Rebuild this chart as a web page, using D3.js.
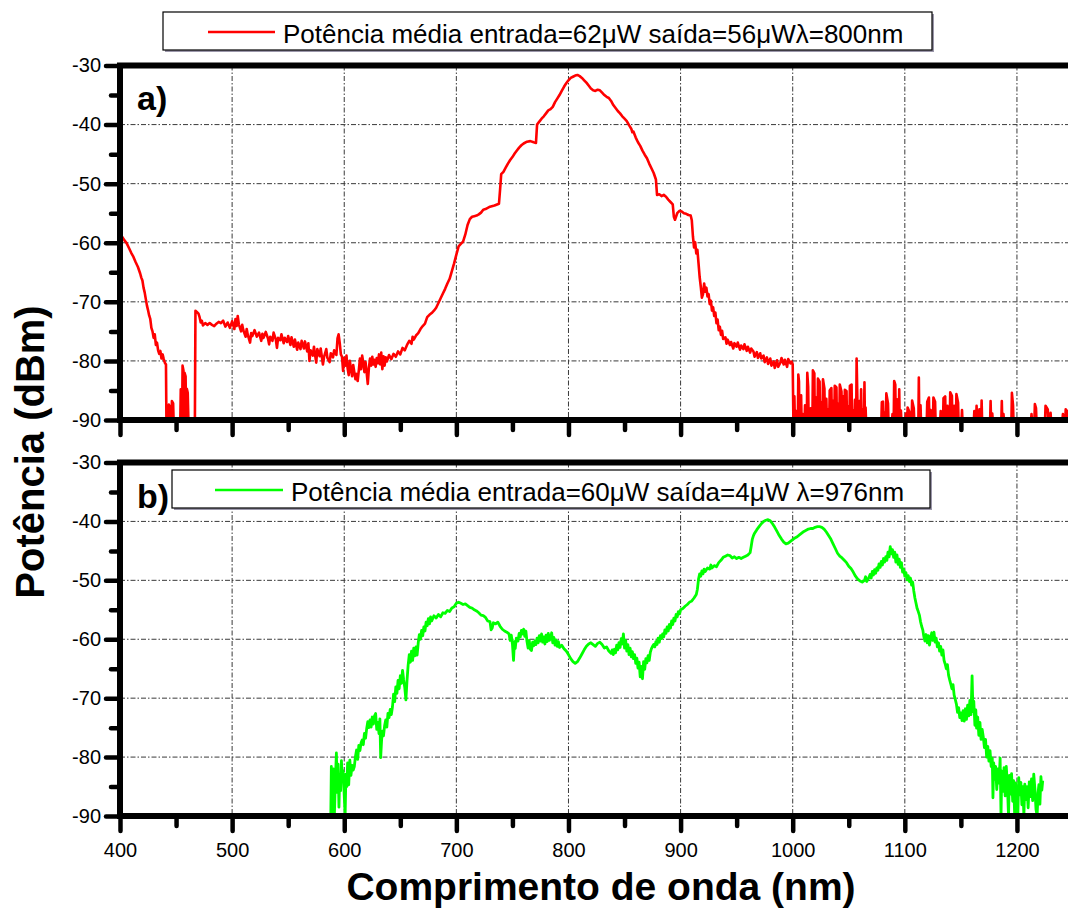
<!DOCTYPE html>
<html>
<head>
<meta charset="utf-8">
<script src="https://cdn.jsdelivr.net/npm/d3@7"></script>
<style>
  html, body { margin: 0; background: #fff; }
  svg { display: block; font-family: "Liberation Sans", Arial, sans-serif; }
</style>
</head>
<body>
<svg id="chart" width="1068" height="914"></svg>
<script>
// Spectrum a): pumped at 800 nm, [wavelength nm, power dBm]
const spectrumA = [
  [400,-58.8],[402,-59.0],[404,-59.6],[406,-60.1],[408,-60.9],[410,-61.7],[412,-62.4],[414,-63.3],[416,-64.1],[418,-65.2],
  [419,-65.9],[420,-66.4],[421,-67.6],[422,-68.4],[423,-69.5],[424,-70.6],[425,-71.4],[426,-72.3],[427,-72.9],[428,-74.4],
  [429,-75.0],[430,-76.1],[431,-75.5],[432,-77.3],[433,-76.9],[434,-78.2],[435,-78.8],[436,-78.3],[437,-79.6],[438,-78.9],
  [439,-79.7],[440,-80.3],[441,-80.6],
  [441.4,-90],[443.3,-90],[443.6,-87.4],[444.5,-87.9],[444.9,-90],[446.0,-90],[446.3,-86.8],[447.4,-87.2],[447.8,-90],
  [453.8,-90],[454.2,-84.8],[455.0,-85.3],[455.4,-90],[455.8,-80.8],[456.6,-81.6],[457.1,-90],[457.6,-82.0],[458.5,-82.6],
  [459.0,-90],[459.6,-84.7],[460.4,-85.4],[461.0,-90],[466.8,-90],
  [467.3,-71.5],[468.5,-71.7],[470,-72.0],[471,-72.6],[472,-73.5],[473,-73.2],[474,-74.0],[476,-73.6],[478,-73.9],[480,-73.6],
  [482,-73.9],[484,-74.1],[486,-73.7],[488,-73.4],[490,-73.6],[492,-73.2],[494,-74.2],[496,-73.5],[498,-74.4],[500,-73.3],
  [502,-74.6],[503,-72.9],[504,-74.1],[505,-72.4],[506,-73.8],[508,-75.0],[509,-73.9],[510,-74.8],[512,-75.9],[513,-74.6],
  [514,-75.6],[516,-76.9],[517,-75.3],[518,-75.8],[520,-74.8],[522,-75.9],[524,-75.2],[526,-76.6],[527,-75.4],[528,-76.1],
  [530,-75.1],[532,-76.2],[533,-77.2],[534,-75.9],[536,-76.6],[537,-75.2],[539,-76.4],[540,-77.8],[541,-76.1],[543,-76.5],
  [544,-75.5],[546,-77.0],[547,-76.1],[549,-76.8],[550,-75.8],[552,-77.3],[553,-76.0],[555,-77.6],[556,-76.4],[558,-78.1],
  [559,-76.9],[561,-78.0],[562,-76.6],[564,-77.9],[565,-76.7],[567,-78.4],[568,-77.0],[569,-80.0],[570,-78.2],[572,-79.1],
  [573,-77.6],[575,-80.3],[576,-78.0],[578,-79.2],[579,-77.9],[581,-80.6],[582,-79.3],[584,-78.0],[585,-79.5],[587,-80.2],
  [588,-78.7],[590,-79.4],[591,-78.2],[593,-79.0],[594,-76.2],[595,-75.5],[596,-77.0],[597,-78.9],[598,-79.3],[599,-81.7],
  [600,-79.5],[601,-80.8],[602,-79.1],[603,-81.2],[604,-82.4],[605,-80.0],[606,-81.3],[607,-82.6],[608,-80.7],[609,-81.9],
  [610,-83.1],[611,-82.2],[612,-83.4],[613,-81.6],[614,-79.6],[615,-81.4],[616,-79.1],[617,-80.3],[618,-81.9],[619,-80.2],
  [620,-82.0],[621,-83.9],[622,-81.2],[623,-79.6],[624,-80.8],[625,-79.3],[626,-80.6],[627,-79.8],[628,-81.0],[629,-79.5],
  [630,-80.4],[631,-78.9],[632,-80.6],[633,-78.6],[634,-81.4],[635,-79.2],[636,-80.8],[637,-79.4],[638,-80.1],[640,-79.0],
  [642,-79.7],[644,-78.8],[646,-79.3],[648,-78.4],[650,-78.9],[652,-77.8],[654,-78.2],[656,-77.3],[658,-76.6],[660,-77.1],
  [661,-75.9],[662,-76.4],[664,-75.7],[666,-75.3],[668,-74.6],[670,-74.1],[672,-73.7],[674,-72.6],[676,-72.2],[678,-71.9],
  [680,-71.5],[682,-71.0],[684,-70.2],[686,-69.4],[688,-68.6],[690,-67.8],[692,-66.9],[694,-66.1],[696,-64.8],[698,-63.5],
  [700,-62.0],[702,-60.6],[704,-60.2],[706,-59.8],[708,-58.6],[710,-57.0],[712,-56.0],[714,-55.6],[716,-55.5],[718,-55.4],
  [720,-55.2],[722,-54.9],[724,-54.4],[726,-54.3],[728,-54.1],[730,-53.9],[734,-53.7],[738,-53.4],[739,-51.0],[740,-48.4],
  [742,-48.0],[744,-47.3],[746,-46.6],[748,-46.0],[750,-45.5],[752,-44.9],[754,-44.4],[756,-43.9],[758,-43.5],[760,-43.2],
  [763,-42.9],[766,-42.8],[769,-43.0],[771,-43.1],[772,-40.0],[774,-39.5],[776,-39.0],[778,-38.6],[780,-38.1],[782,-37.6],
  [784,-37.4],[786,-37.0],[788,-36.2],[790,-35.6],[792,-35.0],[794,-34.3],[796,-33.6],[798,-33.0],[800,-32.5],[802,-32.1],
  [804,-31.9],[806,-31.7],[808,-31.6],[810,-31.8],[812,-32.1],[814,-32.5],[816,-32.9],[818,-33.4],[820,-33.9],[822,-34.2],
  [824,-34.3],[826,-34.1],[828,-34.2],[830,-34.6],[832,-35.0],[834,-35.3],[836,-35.5],[838,-36.0],[840,-36.7],[842,-37.2],
  [844,-37.7],[846,-38.1],[848,-38.6],[850,-39.0],[852,-39.4],[854,-40.1],[856,-40.7],[857,-41.3],[858,-41.2],[860,-42.2],
  [862,-43.0],[864,-43.6],[866,-44.4],[868,-45.1],[870,-45.7],[872,-46.6],[874,-47.4],[876,-48.2],[878,-49.3],[879,-51.9],
  [881,-51.8],[883,-52.1],[885,-51.9],[887,-52.2],[889,-52.7],[891,-53.1],[893,-53.5],[894,-55.6],[895,-56.1],[897,-55.0],
  [899,-54.6],[901,-54.7],[903,-55.0],[905,-55.1],[907,-55.3],[909,-55.4],[910,-56.2],[911,-58.9],[912,-60.8],[913,-59.9],
  [914,-61.8],[915,-61.2],[916,-63.5],[917,-65.8],[918,-67.4],[919,-69.3],[920,-68.7],[921,-66.9],[922,-68.3],[923,-67.6],
  [924,-69.1],[925,-68.7],[926,-70.4],[927,-69.8],[928,-71.5],[929,-70.9],[930,-72.4],[931,-71.8],[932,-73.6],[933,-73.0],
  [934,-74.8],[935,-74.2],[936,-75.6],[937,-74.9],[938,-76.3],[940,-76.0],[941,-77.1],[942,-76.4],[944,-77.3],[945,-76.8],
  [947,-77.9],[948,-77.0],[950,-77.6],[951,-76.9],[953,-78.1],[954,-77.4],[956,-78.0],[957,-77.2],[959,-78.3],[960,-77.6],
  [962,-78.6],[963,-77.9],[965,-78.4],[966,-79.3],[968,-78.5],[969,-79.5],[971,-78.7],[972,-79.6],[974,-79.1],[975,-80.2],
  [977,-79.4],[978,-80.5],[980,-79.6],[981,-80.8],[983,-80.1],[984,-81.2],[986,-79.9],[987,-81.0],[989,-80.3],[990,-79.5],
  [992,-80.6],[993,-79.8],[995,-81.0],[996,-79.7],[998,-80.4],[999,-80.1],[1000,-80.6],[1000.6,-90],
  [1001.1,-90],[1001.5,-86.0],[1001.9,-90],[1002.6,-90],[1003.0,-88.5],[1003.4,-90],
  [1004.6,-90],[1005.0,-82.3],[1005.6,-83.5],[1006.0,-90],[1007.1,-90],[1007.5,-85.8],[1007.9,-90],
  [1008.6,-90],[1009.0,-89.0],[1009.4,-90],[1010.6,-90],[1011.0,-87.5],[1011.4,-90],
  [1012.6,-90],[1013.0,-82.0],[1013.8,-84.4],[1014.2,-90],[1015.6,-90],[1016.0,-88.0],[1016.4,-90],
  [1017.6,-90],[1018.0,-81.6],[1019.3,-82.1],[1019.7,-90],[1020.6,-90],[1021.0,-86.2],[1021.4,-90],
  [1022.1,-90],[1022.5,-83.0],[1024.0,-83.5],[1024.4,-90],[1025.1,-90],[1025.5,-87.0],[1025.9,-90],
  [1026.6,-90],[1027.0,-83.1],[1028.3,-84.7],[1028.7,-90],[1029.6,-90],[1030.0,-86.4],[1030.4,-90],
  [1031.1,-90],[1031.5,-88.2],[1031.9,-90],[1032.6,-90],[1033.0,-85.0],[1034.5,-84.6],[1034.9,-90],
  [1035.6,-90],[1036.0,-86.8],[1036.4,-90],[1037.1,-90],[1037.5,-84.2],[1039.0,-84.5],[1039.4,-90],
  [1040.1,-90],[1040.5,-87.3],[1040.9,-90],[1041.6,-90],[1042.0,-84.0],[1043.5,-85.2],[1043.9,-90],
  [1044.6,-90],[1045.0,-86.0],[1045.4,-90],[1046.1,-90],[1046.5,-84.9],[1048.0,-85.1],[1048.4,-90],
  [1049.1,-90],[1049.5,-87.7],[1049.9,-90],[1050.6,-90],[1051.0,-84.2],[1052.5,-84.0],[1052.9,-90],
  [1053.6,-90],[1054.0,-88.4],[1054.4,-90],[1055.1,-90],[1055.5,-86.6],[1055.9,-90],
  [1056.6,-90],[1057.0,-79.6],[1057.6,-85.5],[1058.0,-90],[1059.1,-90],[1059.5,-86.8],[1059.9,-90],
  [1060.6,-90],[1061.0,-84.8],[1061.4,-90],[1062.1,-90],[1062.5,-88.2],[1062.9,-90],
  [1063.6,-90],[1064.0,-83.6],[1064.4,-90],[1064.6,-90],[1065.0,-87.9],[1065.4,-90],
  [1079.1,-90],[1079.5,-87.0],[1080.5,-86.9],[1080.9,-90],[1081.6,-90],[1082.0,-88.8],[1082.4,-90],
  [1083.1,-90],[1083.5,-85.5],[1085.0,-87.2],[1085.4,-90],[1088.6,-90],[1089.0,-89.0],[1089.4,-90],
  [1090.1,-90],[1090.5,-83.4],[1091.5,-84.0],[1091.9,-90],[1092.6,-90],[1093.0,-86.5],[1093.4,-90],
  [1094.6,-90],[1095.0,-84.8],[1095.4,-90],[1096.1,-90],[1096.5,-88.4],[1096.9,-90],
  [1100.6,-90],[1101.0,-88.9],[1101.4,-90],[1102.1,-90],[1102.5,-87.9],[1104.0,-88.6],[1104.4,-90],
  [1106.1,-90],[1106.5,-86.7],[1108.0,-88.0],[1108.4,-90],[1112.1,-90],[1112.5,-82.8],[1112.9,-90],
  [1113.6,-90],[1114.0,-87.5],[1114.4,-90],[1119.6,-90],[1120.0,-86.9],[1121.5,-86.2],[1121.9,-90],
  [1122.6,-90],[1123.0,-88.3],[1123.4,-90],[1125.1,-90],[1125.5,-86.2],[1127.0,-86.9],[1127.4,-90],
  [1131.6,-90],[1132.0,-88.5],[1132.4,-90],[1134.1,-90],[1134.5,-86.3],[1136.0,-86.0],[1136.4,-90],
  [1137.6,-90],[1138.0,-87.6],[1138.4,-90],[1140.1,-90],[1140.5,-85.3],[1142.0,-85.9],[1142.4,-90],
  [1143.6,-90],[1144.0,-87.6],[1144.4,-90],[1145.6,-90],[1146.0,-85.6],[1147.5,-87.1],[1147.9,-90],
  [1150.6,-90],[1151.0,-88.3],[1151.4,-90],[1161.6,-90],[1162.0,-88.5],[1162.4,-90],
  [1163.6,-90],[1164.0,-87.6],[1164.4,-90],[1166.1,-90],[1166.5,-88.2],[1166.9,-90],
  [1168.1,-90],[1168.5,-86.7],[1168.9,-90],[1176.1,-90],[1176.5,-86.8],[1176.9,-90],
  [1177.6,-90],[1178.0,-88.9],[1178.4,-90],[1186.1,-90],[1186.5,-86.8],[1186.9,-90],
  [1187.6,-90],[1188.0,-89.0],[1188.4,-90],[1195.1,-90],[1195.5,-85.4],[1196.5,-87.5],[1196.9,-90],
  [1212.6,-90],[1213.0,-89.0],[1213.4,-90],[1215.6,-90],[1216.0,-87.3],[1217.0,-88.0],[1217.4,-90],
  [1225.1,-90],[1225.5,-87.6],[1227.5,-88.2],[1227.9,-90],[1229.6,-90],[1230.0,-88.8],[1230.4,-90],
  [1240.6,-90],[1241.0,-89.0],[1241.4,-90],[1243.1,-90],[1243.5,-88.2],[1245.0,-88.6],[1245.4,-90],
  [1250,-90]
];

// Spectrum b): pumped at 976 nm, [wavelength nm, power dBm]
const spectrumB = [
  [588,-90],[588.5,-81.6],[589.2,-90],[589.8,-83.5],[590.5,-82.0],[591.2,-90],[592,-84.5],[593,-79.3],[593.8,-86.0],
  [594.5,-81.2],[595.3,-88.5],[596,-83.0],[596.8,-85.7],[597.5,-80.6],[598.3,-84.0],[599,-82.3],[600,-86.5],[600.8,-90],
  [601.5,-82.9],[602.3,-85.0],[603,-81.0],[604,-84.7],[605,-80.5],[606,-83.1],[607,-81.4],[608,-82.2],[609,-81.6],
  [610,-79.9],[611,-78.8],[612,-80.4],[613,-78.0],[614,-78.9],[615,-77.6],[616,-77.1],[617,-77.9],[618,-76.0],[619,-76.8],
  [620,-75.2],[621,-74.0],[622,-75.0],[623,-73.7],[624,-74.9],[625,-73.2],[626,-74.4],[627,-73.0],[628,-72.6],[629,-75.3],
  [630,-74.1],[631,-76.0],[631.8,-73.5],[632.5,-80.1],[633.3,-77.2],[634,-75.6],[635,-76.4],[636,-74.7],[637,-73.7],
  [638,-74.9],[639,-72.6],[640,-73.3],[641,-71.9],[642,-72.8],[643,-71.5],[644,-69.3],[645,-70.6],[646,-68.1],[647,-69.2],
  [648,-67.0],[649,-68.4],[650,-66.2],[651,-67.5],[652,-65.3],[653,-66.9],[654,-68.2],[655,-70.3],[656,-67.0],[657,-64.4],
  [658,-62.6],[659,-63.9],[660,-62.0],[661,-63.6],[662,-61.5],[663,-62.8],[664,-61.3],[665,-62.7],[666,-60.6],[667,-59.2],
  [668,-60.0],[669,-58.5],[670,-59.4],[671,-57.9],[672,-58.6],[673,-57.1],[674,-57.7],[675,-56.5],[676,-57.4],[677,-56.2],
  [678,-56.9],[680,-56.0],[682,-56.4],[684,-55.8],[686,-56.2],[688,-55.5],[690,-55.6],[692,-55.1],[694,-55.3],[696,-54.7],
  [698,-54.5],[700,-53.9],[702,-53.7],[704,-53.9],[706,-54.1],[708,-54.0],[710,-54.3],[712,-54.6],[714,-54.7],[716,-55.0],
  [718,-55.2],[720,-55.5],[722,-55.9],[724,-56.0],[726,-56.3],[728,-56.9],[730,-57.0],[731,-58.4],[732,-58.1],[733,-57.2],
  [735,-57.4],[737,-57.1],[739,-57.8],[741,-58.3],[743,-58.6],[745,-58.8],[747,-59.1],[748,-60.2],[749,-59.3],[750,-60.8],
  [751,-63.6],[751.8,-60.4],[752.5,-61.6],[753.5,-59.8],[755,-60.3],[756,-59.0],[757,-59.6],[758,-58.5],[759,-59.1],
  [760,-58.3],[761,-59.5],[762,-58.6],[763,-60.4],[764,-61.5],[765,-60.2],[766,-61.7],[767,-61.9],[768,-60.5],[769,-61.1],
  [770,-60.3],[771,-60.9],[772,-59.8],[773,-60.6],[774,-59.4],[775,-60.3],[776,-59.1],[777,-60.5],[778,-59.6],[779,-60.8],
  [780,-59.3],[781,-60.4],[782,-59.0],[783,-60.2],[784,-59.8],[785,-58.9],[786,-60.6],[787,-59.7],[788,-61.0],[789,-60.1],
  [790,-61.2],[791,-60.4],[792,-61.4],[794,-61.0],[796,-61.6],[798,-62.0],[800,-62.6],[802,-63.3],[804,-63.8],[806,-64.1],
  [808,-63.8],[810,-63.2],[812,-62.5],[814,-61.8],[816,-61.2],[818,-60.8],[820,-60.6],[822,-60.9],[824,-61.2],[826,-60.7],
  [828,-60.5],[830,-60.9],[832,-61.5],[834,-61.3],[836,-62.0],[838,-62.4],[839,-61.8],[840,-62.6],[841,-61.7],[842,-62.3],
  [843,-61.0],[844,-61.8],[845,-60.6],[846,-61.4],[847,-59.9],[848,-60.8],[849,-59.1],[850,-61.5],[851,-60.2],[852,-62.0],
  [853,-60.9],[854,-62.6],[855,-61.5],[856,-63.0],[857,-62.1],[858,-63.3],[859,-62.6],[860,-64.1],[861,-63.2],[862,-64.9],
  [863,-63.9],[864,-66.4],[865,-64.6],[866,-66.7],[867,-63.8],[868,-65.1],[869,-63.3],[870,-64.0],[871,-62.8],[872,-63.6],
  [873,-62.2],[874,-61.6],[875,-61.2],[876,-60.9],[877,-61.3],[878,-60.4],[879,-60.9],[880,-59.8],[881,-60.5],[882,-59.4],
  [883,-59.9],[884,-59.1],[885,-59.6],[886,-58.4],[887,-59.0],[888,-57.9],[889,-58.6],[890,-57.5],[891,-58.1],[892,-56.9],
  [893,-57.5],[894,-56.4],[895,-56.9],[896,-55.8],[897,-56.2],[898,-55.3],[899,-55.7],[900,-55.0],[902,-54.8],[904,-54.4],
  [906,-54.1],[908,-53.7],[910,-53.5],[912,-53.0],[914,-52.4],[915,-51.5],[916,-49.8],[917,-48.9],[918,-49.3],[919,-48.4],
  [920,-48.9],[921,-48.1],[922,-48.5],[924,-47.9],[926,-48.1],[927,-47.4],[928,-47.9],[930,-47.5],[932,-47.7],[934,-47.0],
  [936,-46.6],[938,-46.1],[940,-45.9],[942,-45.7],[944,-45.8],[946,-46.2],[948,-46.0],[950,-46.3],[952,-46.1],[954,-46.3],
  [956,-46.1],[958,-45.9],[960,-45.7],[962,-45.3],[963,-44.2],[964,-43.0],[965,-42.4],[966,-42.0],[968,-41.4],[970,-40.9],
  [972,-40.4],[974,-40.0],[976,-39.8],[978,-39.7],[980,-39.9],[982,-40.4],[984,-41.0],[986,-41.7],[988,-42.4],[990,-43.0],
  [992,-43.5],[994,-43.8],[996,-43.7],[998,-43.4],[1000,-43.1],[1002,-42.8],[1004,-42.6],[1006,-42.3],[1008,-42.0],
  [1010,-41.7],[1012,-41.5],[1014,-41.3],[1016,-41.2],[1018,-41.2],[1020,-41.0],[1022,-40.9],[1024,-40.9],[1026,-41.0],
  [1028,-41.3],[1030,-41.8],[1032,-42.4],[1034,-43.0],[1036,-43.8],[1038,-44.6],[1040,-45.4],[1042,-45.9],[1044,-46.2],
  [1046,-46.6],[1048,-47.0],[1050,-47.6],[1052,-48.0],[1054,-48.6],[1056,-49.3],[1058,-49.8],[1060,-50.1],[1062,-50.3],
  [1064,-50.0],[1065,-49.4],[1066,-50.2],[1068,-49.5],[1069,-49.0],[1070,-49.6],[1071,-48.5],[1072,-49.1],[1073,-48.2],
  [1074,-48.8],[1075,-47.9],[1076,-48.3],[1077,-47.2],[1078,-47.8],[1079,-46.8],[1080,-47.4],[1081,-46.3],[1082,-46.9],
  [1083,-46.0],[1084,-46.6],[1085,-45.2],[1086,-46.0],[1087,-44.3],[1088,-45.5],[1089,-44.8],[1090,-46.1],[1091,-45.2],
  [1092,-46.9],[1093,-45.7],[1094,-47.3],[1095,-46.4],[1096,-47.8],[1097,-47.0],[1098,-48.6],[1099,-48.1],[1100,-49.3],
  [1101,-48.7],[1102,-49.9],[1103,-49.2],[1104,-50.2],[1105,-49.6],[1106,-50.8],[1107,-50.3],[1108,-51.8],[1109,-53.0],
  [1110,-53.9],[1111,-54.8],[1112,-55.3],[1113,-55.9],[1114,-57.0],[1115,-57.8],[1116,-58.4],[1117,-59.6],[1118,-60.3],
  [1119,-59.2],[1120,-60.6],[1121,-59.4],[1122,-61.0],[1123,-59.7],[1124,-58.9],[1125,-60.2],[1126,-58.8],[1127,-60.5],
  [1128,-59.8],[1129,-61.3],[1130,-60.6],[1131,-62.0],[1132,-61.2],[1133,-62.7],[1134,-61.8],[1135,-63.6],[1136,-64.2],
  [1137,-65.0],[1138,-64.3],[1139,-66.1],[1140,-66.9],[1141,-67.6],[1142,-68.4],[1143,-67.7],[1144,-69.5],[1145,-70.2],
  [1146,-71.0],[1147,-72.4],[1148,-71.6],[1149,-73.3],[1150,-72.5],[1151,-73.8],[1152,-72.1],[1153,-73.9],[1154,-71.8],
  [1155,-73.6],[1156,-71.2],[1157,-73.0],[1158,-70.4],[1159,-72.8],[1160,-66.2],[1160.8,-72.3],[1161.5,-70.5],
  [1162.5,-74.6],[1163.3,-72.0],[1164,-75.1],[1165,-73.2],[1166,-76.3],[1167,-74.1],[1168,-77.0],[1169,-75.3],[1170,-76.6],
  [1171,-78.4],[1172,-77.0],[1173,-80.0],[1174,-78.2],[1175,-80.7],[1176,-78.9],[1177,-81.6],[1178,-80.2],[1178.6,-86.9],
  [1179.3,-81.0],[1180,-83.8],[1181,-81.6],[1182,-85.5],[1183,-82.0],[1184,-84.4],[1185,-80.2],[1185.8,-90],[1186.5,-82.4],
  [1187.5,-85.8],[1188.5,-81.8],[1189.5,-86.6],[1190.5,-81.6],[1191.5,-84.9],[1192.5,-90],[1193.3,-83.1],[1194.3,-86.3],
  [1195.2,-82.8],[1196.2,-87.5],[1197,-84.0],[1198,-90],[1198.8,-84.4],[1199.8,-87.9],[1200.8,-90],[1201.6,-83.5],
  [1202.5,-86.4],[1203.5,-84.3],[1204.4,-88.1],[1205.3,-85.0],[1206.2,-90],[1207,-84.6],[1208,-87.2],[1209,-85.0],
  [1210,-88.6],[1211,-84.2],[1212,-86.7],[1213,-83.7],[1214,-87.4],[1215,-82.9],[1216,-85.3],[1217,-88.9],[1218,-90],
  [1218.8,-86.1],[1219.6,-84.7],[1220.5,-88.0],[1221.4,-83.3],[1222.2,-85.6],[1223,-84.0]
];

const xMajorTicks = [400, 500, 600, 700, 800, 900, 1000, 1100, 1200];
const xMinorTicks = [450, 550, 650, 750, 850, 950, 1050, 1150, 1250];
const yMajorTicks = [-90, -80, -70, -60, -50, -40, -30];
const yMinorTicks = [-85, -75, -65, -55, -45, -35];

const legendTextA = "Potência média entrada=62μW saída=56μWλ=800nm";
const legendTextB = "Potência média entrada=60μW saída=4μW λ=976nm";
const panelTags = ["a)", "b)"];
const xTitle = "Comprimento de onda (nm)";
const yTitle = "Potência (dBm)";

const svg = d3.select("#chart");
const plotLeft = 120, plotRight = 1073;
const x = d3.scaleLinear().domain([400, 1250]).range([plotLeft, plotRight]);

const panels = [
  { top: 65.5, bottom: 420, data: spectrumA, color: "#ff0000", width: 2.6, tag: panelTags[0], tagY: 110,
    legend: { text: legendTextA, x: 163, y: 12, w: 769, h: 38, lx1: 208, lx2: 275, tx: 283 } },
  { top: 462.5, bottom: 816, data: spectrumB, color: "#00ff00", width: 2.8, tag: panelTags[1], tagY: 508,
    legend: { text: legendTextB, x: 172, y: 470, w: 758, h: 38, lx1: 215, lx2: 283, tx: 291 } }
];

panels.forEach((p, i) => {
  const y = d3.scaleLinear().domain([-90, -30]).range([p.bottom, p.top]);
  const g = svg.append("g");

  // dash-dot grid
  g.append("g").selectAll("line").data(yMajorTicks.slice(1, -1)).join("line")
    .attr("x1", plotLeft).attr("x2", plotRight)
    .attr("y1", d => y(d)).attr("y2", d => y(d))
    .attr("stroke", "#3a3a3a").attr("stroke-width", 1).attr("stroke-dasharray", "5,2,1.5,2");
  g.append("g").selectAll("line").data(xMajorTicks.slice(1)).join("line")
    .attr("x1", d => x(d)).attr("x2", d => x(d))
    .attr("y1", p.top).attr("y2", p.bottom)
    .attr("stroke", "#3a3a3a").attr("stroke-width", 1).attr("stroke-dasharray", "5,2,1.5,2");

  // spectrum trace
  const clipId = "clip" + i;
  svg.append("clipPath").attr("id", clipId).append("rect")
    .attr("x", plotLeft).attr("y", p.top).attr("width", plotRight - plotLeft).attr("height", p.bottom - p.top);
  const line = d3.line().x(d => x(d[0])).y(d => y(d[1]));
  g.append("path").datum(p.data)
    .attr("clip-path", `url(#${clipId})`)
    .attr("d", line)
    .attr("fill", "none").attr("stroke", p.color).attr("stroke-width", p.width)
    .attr("stroke-linejoin", "round");

  // ticks (outward, heavy, rounded)
  const tickStyle = sel => {
    sel.select(".domain").remove();
    sel.selectAll(".tick line").attr("stroke", "#000").attr("stroke-width", 4.5).attr("stroke-linecap", "round");
  };
  const yMajor = d3.axisLeft(y).tickValues(yMajorTicks).tickSize(14).tickPadding(5).tickFormat(d => String(d));
  g.append("g").attr("transform", `translate(${plotLeft},0)`).call(yMajor).call(tickStyle)
    .selectAll("text").attr("font-size", 20).attr("font-family", "Liberation Sans, Arial, sans-serif").attr("fill", "#000");
  const yMinor = d3.axisLeft(y).tickValues(yMinorTicks).tickSize(9).tickFormat("");
  g.append("g").attr("transform", `translate(${plotLeft},0)`).call(yMinor).call(tickStyle);

  const xMajor = d3.axisBottom(x).tickValues(xMajorTicks).tickSize(15).tickPadding(12)
    .tickFormat(i === 1 ? (d => String(d)) : "");
  g.append("g").attr("transform", `translate(0,${p.bottom})`).call(xMajor).call(tickStyle)
    .selectAll("text").attr("font-size", 20).attr("font-family", "Liberation Sans, Arial, sans-serif").attr("fill", "#000");
  const xMinor = d3.axisBottom(x).tickValues(xMinorTicks).tickSize(10).tickFormat("");
  g.append("g").attr("transform", `translate(0,${p.bottom})`).call(xMinor).call(tickStyle);

  // heavy frame
  g.append("rect")
    .attr("x", plotLeft).attr("y", p.top).attr("width", plotRight - plotLeft).attr("height", p.bottom - p.top)
    .attr("fill", "none").attr("stroke", "#000").attr("stroke-width", 6);

  // panel tag
  g.append("text").attr("x", 137).attr("y", p.tagY).text(p.tag)
    .attr("font-size", 34).attr("font-weight", "bold").attr("fill", "#000");

  // legend box
  const L = p.legend;
  const lg = svg.append("g");
  lg.append("rect").attr("x", L.x + 2).attr("y", L.y + 2).attr("width", L.w).attr("height", L.h)
    .attr("fill", "#9b97aa");
  lg.append("rect").attr("x", L.x).attr("y", L.y).attr("width", L.w).attr("height", L.h)
    .attr("fill", "#fff").attr("stroke", "#000").attr("stroke-width", 1.2);
  lg.append("line").attr("x1", L.lx1).attr("x2", L.lx2).attr("y1", L.y + L.h / 2 + 1).attr("y2", L.y + L.h / 2 + 1)
    .attr("stroke", p.color).attr("stroke-width", 2.5);
  lg.append("text").attr("x", L.tx).attr("y", L.y + 31).text(L.text)
    .attr("font-size", 26).attr("fill", "#000");
});

// axis titles
svg.append("text").attr("x", 601).attr("y", 900).attr("text-anchor", "middle")
  .attr("font-size", 39).attr("font-weight", "bold").attr("fill", "#000").text(xTitle);
svg.append("text").attr("transform", "translate(44,452) rotate(-90)").attr("text-anchor", "middle")
  .attr("font-size", 40).attr("font-weight", "bold").attr("fill", "#000").text(yTitle);
</script>
</body>
</html>
